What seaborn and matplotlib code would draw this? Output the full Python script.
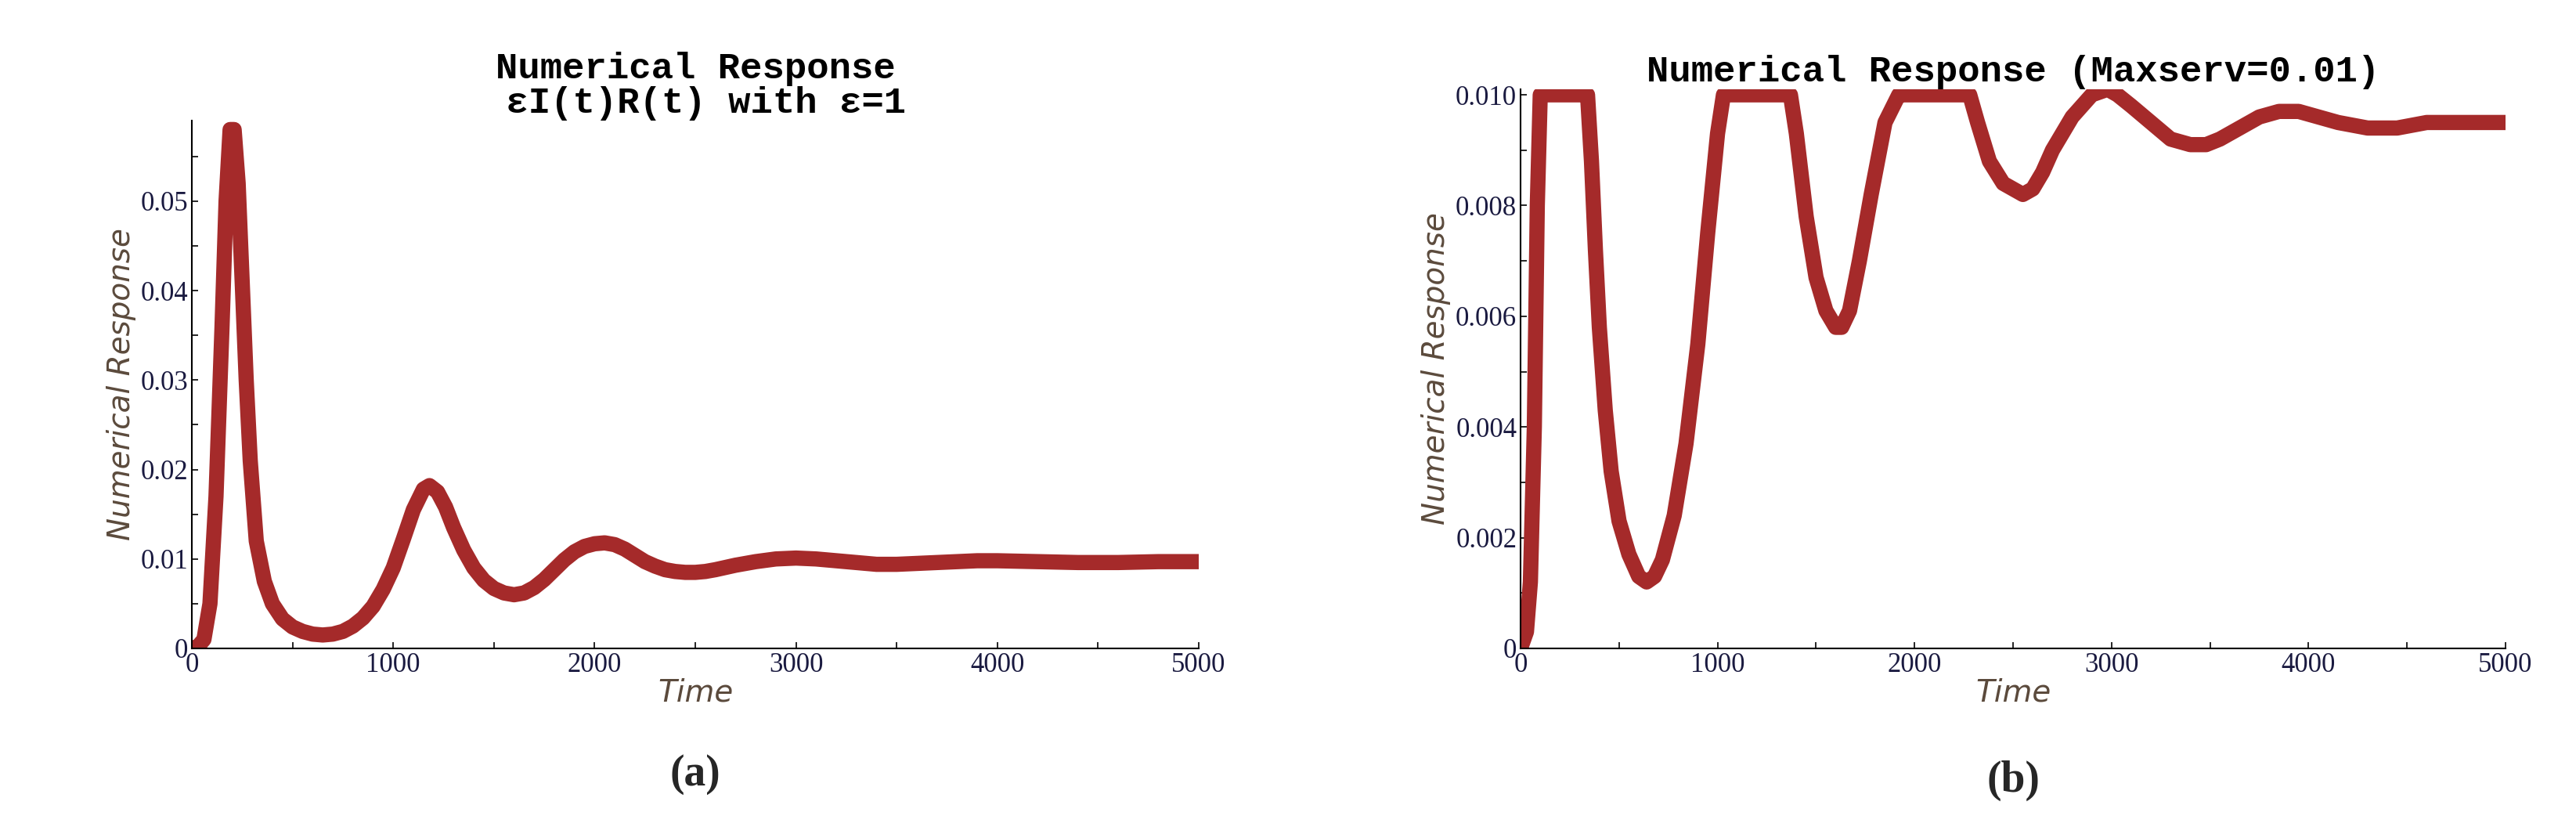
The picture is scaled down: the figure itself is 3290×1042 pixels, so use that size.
import matplotlib

matplotlib.use("Agg")

import matplotlib.pyplot as plt
import numpy as np
import pandas as pd
import seaborn as sns

sns.set_theme(style="ticks")

# ----- values
time_a = [0, 30, 60, 90, 120, 150, 170, 190, 210, 230, 250, 270, 290, 320, 360, 400, 450,
          500, 550, 600, 650, 700, 750, 800, 850, 900, 950, 1000, 1050, 1100, 1150, 1180,
          1220, 1260, 1300, 1350, 1400, 1450, 1500, 1550, 1600, 1650, 1700, 1750, 1800,
          1850, 1900, 1950, 2000, 2050, 2100, 2150, 2200, 2250, 2300, 2350, 2400, 2450,
          2500, 2550, 2600, 2700, 2800, 2900, 3000, 3100, 3200, 3300, 3400, 3500, 3600,
          3700, 3800, 3900, 4000, 4200, 4400, 4600, 4800, 5000]
resp_a = [0, 0.0002, 0.001, 0.005, 0.017, 0.036, 0.050, 0.058, 0.058, 0.052, 0.041, 0.030,
          0.021, 0.012, 0.0075, 0.005, 0.0033, 0.0024, 0.0019, 0.0016, 0.0015, 0.0016,
          0.0019, 0.0025, 0.0034, 0.0047, 0.0066, 0.009, 0.0122, 0.0155, 0.0178, 0.0182,
          0.0175, 0.0158, 0.0135, 0.011, 0.009, 0.0076, 0.0067, 0.0062, 0.006, 0.0062,
          0.0068, 0.0077, 0.0088, 0.0099, 0.0108, 0.0114, 0.0117, 0.0118, 0.0116, 0.0111,
          0.0104, 0.0097, 0.0092, 0.0088, 0.0086, 0.0085, 0.0085, 0.0086, 0.0088, 0.0093,
          0.0097, 0.0100, 0.0101, 0.0100, 0.0098, 0.0096, 0.0094, 0.0094, 0.0095, 0.0096,
          0.0097, 0.0098, 0.0098, 0.0097, 0.0096, 0.0096, 0.0097, 0.0097]

time_b = [0, 30, 50, 70, 85, 100, 200, 300, 340, 360, 380, 400, 430, 460, 500, 550, 600,
          640, 680, 720, 780, 840, 900, 950, 1000, 1030, 1200, 1370, 1400, 1450, 1500,
          1550, 1600, 1630, 1670, 1720, 1780, 1850, 1920, 1960, 2100, 2280, 2320, 2380,
          2450, 2500, 2550, 2600, 2650, 2700, 2800, 2900, 2980, 3030, 3100, 3200, 3300,
          3400, 3480, 3550, 3650, 3750, 3850, 3950, 4050, 4150, 4300, 4450, 4600, 4800,
          5000]
resp_b = [0, 0.0003, 0.0012, 0.004, 0.008, 0.010, 0.010, 0.010, 0.010, 0.0088, 0.0072,
          0.0058, 0.0043, 0.0032, 0.0023, 0.0017, 0.0013, 0.0012, 0.0013, 0.0016, 0.0024,
          0.0037, 0.0055, 0.0075, 0.0093, 0.010, 0.010, 0.010, 0.0093, 0.0078, 0.0067,
          0.0061, 0.0058, 0.0058, 0.0061, 0.007, 0.0082, 0.0095, 0.010, 0.010, 0.010,
          0.010, 0.0095, 0.0088, 0.0084, 0.0083, 0.0082, 0.0083, 0.0086, 0.0090, 0.0096,
          0.0100, 0.0101, 0.0100, 0.0098, 0.0095, 0.0092, 0.0091, 0.0091, 0.0092, 0.0094,
          0.0096, 0.0097, 0.0097, 0.0096, 0.0095, 0.0094, 0.0094, 0.0095, 0.0095, 0.0095]

titles = ["Numerical Response\n \u03b5I(t)R(t) with \u03b5=1",
          "Numerical Response (Maxserv=0.01)"]
captions = ["(a)", "(b)"]
ylims = [0.059, 0.0101]
yticks = [[0, 0.01, 0.02, 0.03, 0.04, 0.05], [0, 0.002, 0.004, 0.006, 0.008, 0.010]]
ytick_labels = [["0", "0.01", "0.02", "0.03", "0.04", "0.05"],
                ["0", "0.002", "0.004", "0.006", "0.008", "0.010"]]

LINE = "#A52A2A"
TICK = "#1a1a40"
LABEL = "#5b4a3c"

fig = plt.figure(figsize=(32.9, 10.42), dpi=100)
boxes = [[245 / 3290, 1 - 828 / 1042, 1286 / 3290, 674 / 1042],
         [1942 / 3290, 1 - 828 / 1042, 1258 / 3290, 714 / 1042]]
series = [(time_a, resp_a), (time_b, resp_b)]

for i, (box, (t, r)) in enumerate(zip(boxes, series)):
    ax = fig.add_axes(box)
    df = pd.DataFrame({"Time": t, "Response": r})
    sns.lineplot(data=df, x="Time", y="Response", ax=ax, color=LINE, linewidth=14,
                 solid_capstyle="round", solid_joinstyle="round")
    ax.set_xlim(0, 5000)
    ax.set_ylim(0, ylims[i])
    ax.set_xticks([0, 1000, 2000, 3000, 4000, 5000])
    ax.set_xticks(np.arange(500, 5000, 1000), minor=True)
    ax.set_yticks(yticks[i])
    ax.set_yticks(np.arange(0.005 if i == 0 else 0.001, ylims[i], 0.005 if i == 0 else 0.002),
                  minor=True)
    ax.set_yticklabels(ytick_labels[i])
    ax.tick_params(which="both", direction="in", length=6, width=1.2, colors="black",
                   labelcolor=TICK, labelsize=25)
    for lab in ax.get_xticklabels() + ax.get_yticklabels():
        lab.set_family("Liberation Serif")
    sns.despine(ax=ax)
    for s in ["left", "bottom"]:
        ax.spines[s].set_linewidth(1.5)
        ax.spines[s].set_color("black")
    ax.set_xlabel("Time", fontsize=28, style="italic", color=LABEL, labelpad=0)
    ax.set_ylabel("Numerical Response", fontsize=28, style="italic", color=LABEL)
    ax.set_title(titles[i], fontsize=34, family="Liberation Mono", weight="bold",
                 color="black", pad=6, linespacing=1.0)
    ax.text(0.5, -0.2, captions[i], transform=ax.transAxes, ha="center", va="top",
            fontsize=40, family="Liberation Serif", weight="bold")

fig.savefig("out.png", dpi=100)
